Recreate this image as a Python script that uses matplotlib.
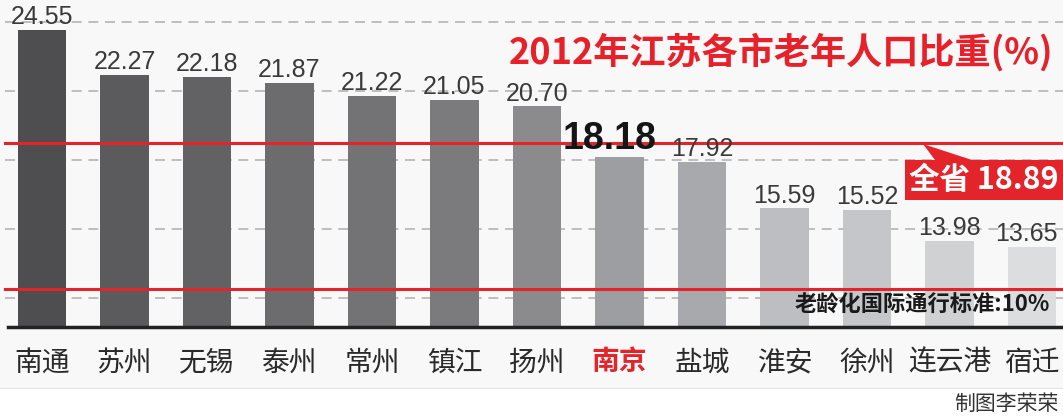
import numpy as np
import matplotlib
matplotlib.use("Agg")
import matplotlib.pyplot as plt
from matplotlib.patches import Polygon, Rectangle

plt.rcParams['font.family'] = ['Noto Sans CJK SC', 'DejaVu Sans']

cities = ["南通", "苏州", "无锡", "泰州", "常州", "镇江", "扬州",
          "南京", "盐城", "淮安", "徐州", "连云港", "宿迁"]
elderly_pct = [24.55, 22.27, 22.18, 21.87, 21.22, 21.05, 20.70,
               18.18, 17.92, 15.59, 15.52, 13.98, 13.65]
province_avg = 18.89
intl_standard = 10
highlight = "南京"

title = "2012年江苏各市老年人口比重(%)"
credit = "制图李荣荣"

bar_colors = ["#4e4e50", "#5b5b5d", "#626264", "#6c6c6e", "#737375", "#7b7b7d",
              "#8b8b8d", "#9d9ea1", "#a8a9ac", "#bdbec1", "#c5c6c9", "#d0d1d3", "#dcdddf"]
RED = "#e3242b"

W, H = 1063, 417
fig = plt.figure(figsize=(W / 100, H / 100), dpi=100)

# pixel helper (from top-left) -> figure fraction
def px(x, y):
    return (x / W, 1 - y / H)

# light band behind bars and labels
fig.patches.append(Rectangle((0, 29 / H), 1, 1 - 29 / H, transform=fig.transFigure,
                             facecolor="#f8f8f8", edgecolor="none", zorder=-5))
fig.lines.append(plt.Line2D([0, 1], [29 / H, 29 / H], transform=fig.transFigure,
                            color="#e4e4e4", lw=0.8))

ax = fig.add_axes([0, 90 / H, 1, 327 / H])
ax.set_facecolor("none")

# the newspaper graphic squeezes everything below ~13.5
v_knots = [0, 13.5, 40]
h_knots = [-73, 76.9, 605.6]
def fwd(v):
    return np.interp(v, v_knots, h_knots)
def inv(h):
    return np.interp(h, h_knots, v_knots)
ax.set_yscale('function', functions=(fwd, inv))
y0, y1 = 6.57, 26.04
ax.set_ylim(y0, y1)

x = np.arange(len(cities))
ax.set_xlim(-0.509, 12.376)

# dashed guide lines
for p in [22, 91, 160, 229, 298]:
    f = (327 - p) / 327
    ax.plot([5 / W, 1], [f, f], transform=ax.transAxes, color="#b4b4b4",
            lw=1.2, dashes=(6, 4), zorder=0)

ax.bar(x, np.array(elderly_pct) - y0, width=0.59, bottom=y0, color=bar_colors, zorder=2)

ax.axhline(province_avg, xmin=5 / W, color=RED, lw=2.2, zorder=3)
ax.axhline(intl_standard, xmin=5 / W, color=RED, lw=2.2, zorder=3)
ax.axhline(y0, xmin=8 / W, color="#222222", lw=2.5, zorder=4, clip_on=False)

for i, v in enumerate(elderly_pct):
    if cities[i] == highlight:
        ax.annotate(f"{v:.2f}", (i, v), xytext=(-7, 0), textcoords="offset points",
                    ha="center", va="bottom", fontsize=27, fontweight="bold",
                    family="Liberation Sans", color="#151515", zorder=5)
    else:
        dx = -4 if i == len(cities) - 1 else 0
        ax.annotate(f"{v:.2f}", (i, v), xytext=(dx, 0.5), textcoords="offset points",
                    ha="center", va="bottom", fontsize=18,
                    family="Liberation Sans", color="#3a3a3a", zorder=5)

ax.set_xticks(x, cities)
ax.tick_params(axis="x", length=0, pad=15, labelsize=20, labelcolor="#2a2a2a")
ax.set_yticks([])
ax.yaxis.set_minor_locator(plt.NullLocator())
for lab in ax.get_xticklabels():
    if lab.get_text() == highlight:
        lab.set_color(RED)
        lab.set_fontweight("bold")
for s in ax.spines.values():
    s.set_visible(False)

fig.text(*px(781, 52), title, ha="center", va="center", fontsize=26,
         fontweight="bold", color="#e8202a")

# province average callout
pts = [px(905, 160), px(935, 160), px(923, 144), px(972, 160),
       px(1063, 160), px(1063, 200), px(905, 200)]
fig.patches.append(Polygon(pts, closed=True, transform=fig.transFigure,
                           facecolor=RED, edgecolor="none", zorder=6))
fig.text(*px(984, 180), f"全省 {province_avg:.2f}", ha="center", va="center",
         fontsize=22, fontweight="bold", color="white", zorder=7)

fig.text(*px(1050, 305), f"老龄化国际通行标准:{intl_standard}%", ha="right", va="center",
         fontsize=16, fontweight="bold", color="#1a1a1a", zorder=7)

fig.text(*px(1058, 404), credit, ha="right", va="center", fontsize=15, color="#333333")

fig.savefig("out.png", dpi=100, facecolor="white")
